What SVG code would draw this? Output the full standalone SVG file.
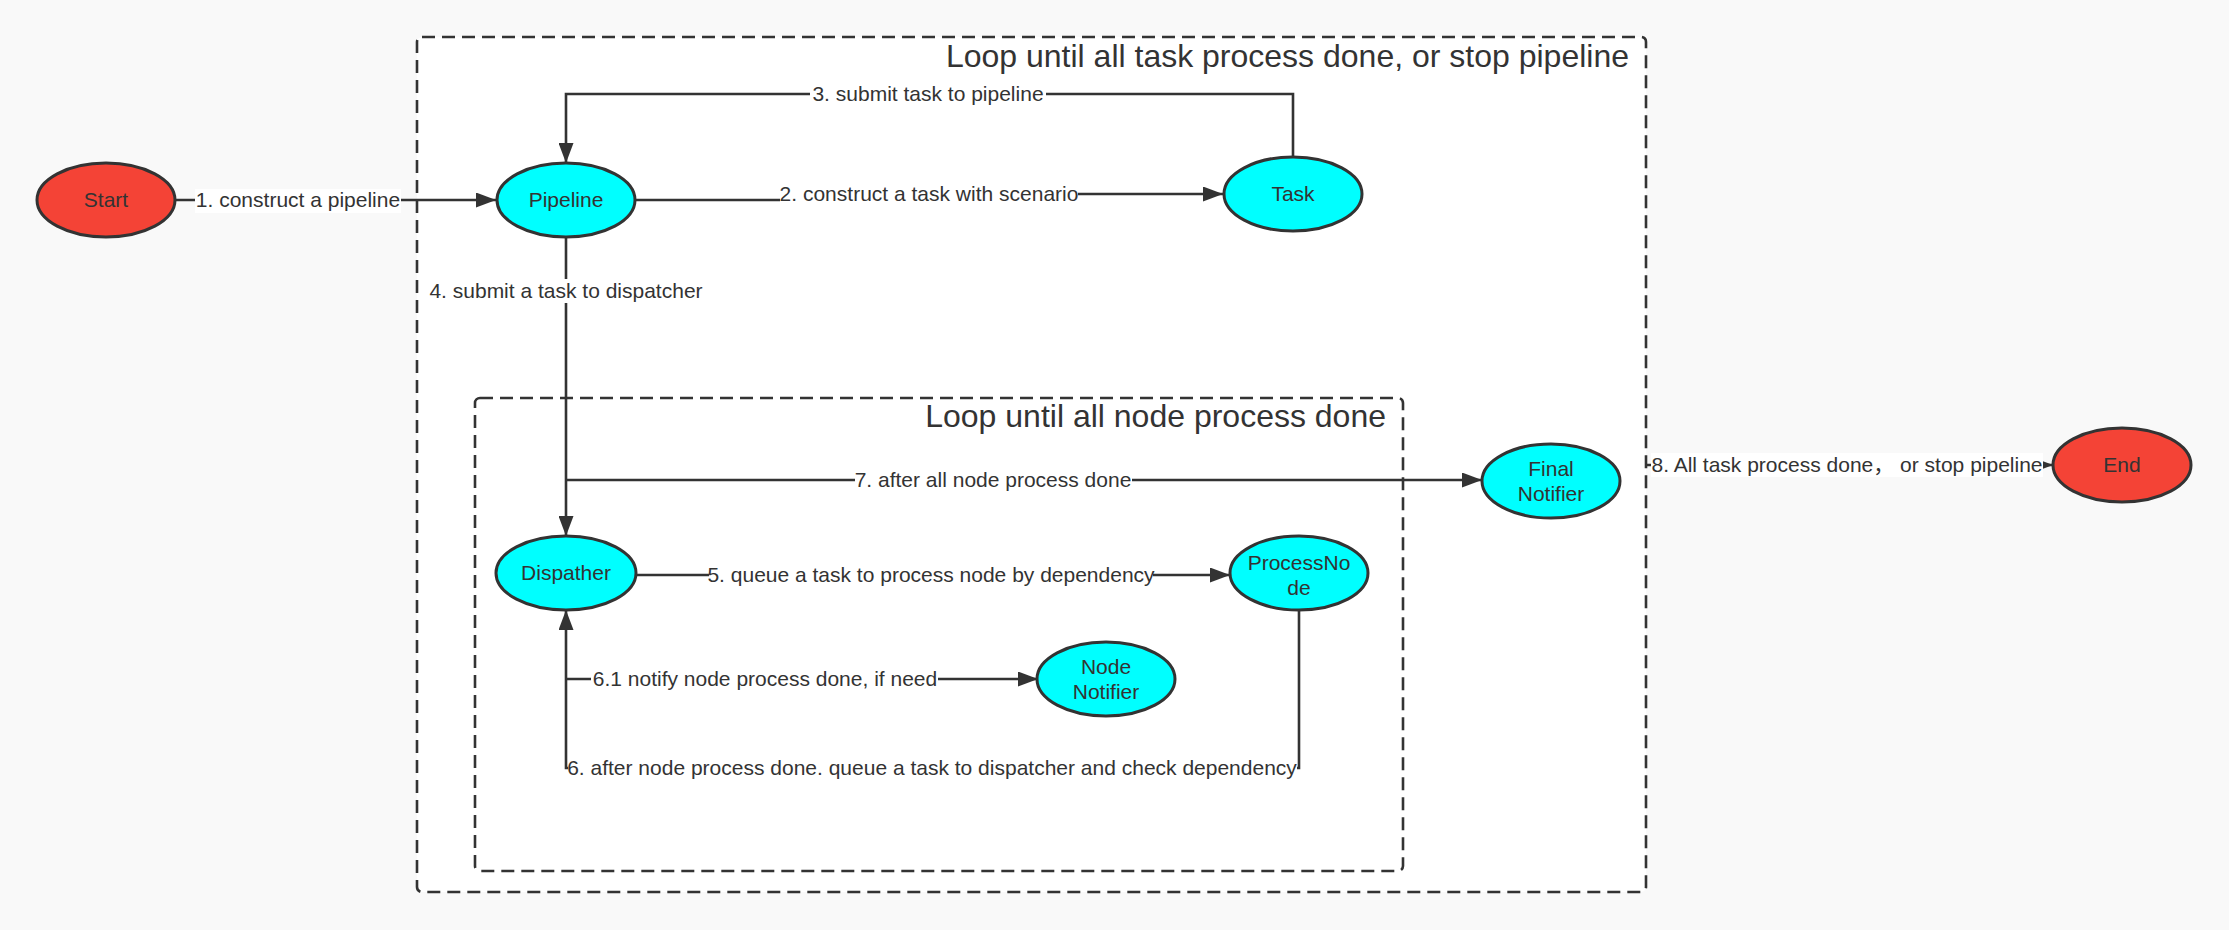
<svg xmlns="http://www.w3.org/2000/svg" width="2229" height="930" viewBox="0 0 2229 930">
<style>
  text { font-family: "Liberation Sans", "Noto Sans CJK SC", sans-serif; fill: #333; }
  .node { stroke: #333; stroke-width: 3; }
  .red { fill: #f44336; }
  .cyan { fill: #00ffff; }
  .nl { font-size: 21px; text-anchor: middle; }
  .el { font-size: 21px; text-anchor: middle; }
  .lb { fill: #ffffff; }
  .edge { fill: none; stroke: #333; stroke-width: 2.6; }
  .box { fill: #ffffff; stroke: #333; stroke-width: 2.6; stroke-dasharray: 13 7; }
  .title { font-size: 32px; text-anchor: end; }
</style>
<defs>
  <marker id="arr" markerUnits="userSpaceOnUse" markerWidth="20" markerHeight="15" refX="20" refY="7.5" orient="auto">
    <path d="M0,0 L20,7.5 L0,15 z" fill="#333"/>
  </marker>
</defs>
<rect x="0" y="0" width="2229" height="930" fill="#f9f9f9"/>

<g id="outer-loop">
  <rect class="box" x="417" y="37" width="1229" height="855" rx="5"/>
  <text class="title" x="1629" y="67">Loop until all task process done, or stop pipeline</text>
</g>
<g id="inner-loop">
  <rect class="box" x="475" y="398" width="928" height="473" rx="5"/>
  <text class="title" x="1386" y="427">Loop until all node process done</text>
</g>

<g id="connectors">
  <path class="edge" d="M175,200 H496" marker-end="url(#arr)"/>
  <rect class="lb" x="195" y="189" width="206" height="24"/>
  <text class="el" x="298" y="200" dy="0.35em">1. construct a pipeline</text>

  <path class="edge" d="M634,200 H930 V194 H1223" marker-end="url(#arr)"/>
  <rect class="lb" x="780" y="182" width="298" height="24"/>
  <text class="el" x="929" y="194" dy="0.35em">2. construct a task with scenario</text>

  <path class="edge" d="M1293,157 V94 H566 V163" marker-end="url(#arr)"/>
  <rect class="lb" x="810" y="82" width="236" height="24"/>
  <text class="el" x="928" y="94" dy="0.35em">3. submit task to pipeline</text>

  <path class="edge" d="M566,237 V536" marker-end="url(#arr)"/>
  <rect class="lb" x="428" y="279" width="275" height="24"/>
  <text class="el" x="566" y="291" dy="0.35em">4. submit a task to dispatcher</text>

  <path class="edge" d="M636,575 H1230" marker-end="url(#arr)"/>
  <rect class="lb" x="709" y="563" width="444" height="24"/>
  <text class="el" x="931" y="575" dy="0.35em">5. queue a task to process node by dependency</text>

  <path class="edge" d="M1299,610 V768 H566 V610" marker-end="url(#arr)"/>
  <rect class="lb" x="568" y="756" width="729" height="24"/>
  <text class="el" x="932" y="768" dy="0.35em">6. after node process done. queue a task to dispatcher and check dependency</text>

  <path class="edge" d="M566,679 H1038" marker-end="url(#arr)"/>
  <rect class="lb" x="591" y="667" width="347" height="24"/>
  <text class="el" x="765" y="679" dy="0.35em">6.1 notify node process done, if need</text>

  <path class="edge" d="M566,480 H1482" marker-end="url(#arr)"/>
  <rect class="lb" x="855" y="468" width="277" height="24"/>
  <text class="el" x="993" y="480" dy="0.35em">7. after all node process done</text>

  <path class="edge" d="M1646,465 H2053" marker-end="url(#arr)"/>
  <rect class="lb" x="1651" y="453" width="392" height="24"/>
  <text class="el" x="1847" y="465" dy="0.35em">8. All task process done，  or stop pipeline</text>
</g>

<g id="start">
  <ellipse class="node red" cx="106" cy="200" rx="69" ry="37"/>
  <text class="nl" x="106" y="200" dy="0.35em">Start</text>
</g>
<g id="pipeline">
  <ellipse class="node cyan" cx="566" cy="200" rx="69" ry="37"/>
  <text class="nl" x="566" y="200" dy="0.35em">Pipeline</text>
</g>
<g id="task">
  <ellipse class="node cyan" cx="1293" cy="194" rx="69" ry="37"/>
  <text class="nl" x="1293" y="194" dy="0.35em">Task</text>
</g>
<g id="dispatcher">
  <ellipse class="node cyan" cx="566" cy="573" rx="70" ry="37"/>
  <text class="nl" x="566" y="573" dy="0.35em">Dispather</text>
</g>
<g id="processnode">
  <ellipse class="node cyan" cx="1299" cy="573" rx="69" ry="37"/>
  <text class="nl" x="1299" y="563" dy="0.35em">ProcessNo</text>
  <text class="nl" x="1299" y="588" dy="0.35em">de</text>
</g>
<g id="nodenotifier">
  <ellipse class="node cyan" cx="1106" cy="679" rx="69" ry="37"/>
  <text class="nl" x="1106" y="667" dy="0.35em">Node</text>
  <text class="nl" x="1106" y="692" dy="0.35em">Notifier</text>
</g>
<g id="finalnotifier">
  <ellipse class="node cyan" cx="1551" cy="481" rx="69" ry="37"/>
  <text class="nl" x="1551" y="469" dy="0.35em">Final</text>
  <text class="nl" x="1551" y="494" dy="0.35em">Notifier</text>
</g>
<g id="end">
  <ellipse class="node red" cx="2122" cy="465" rx="69" ry="37"/>
  <text class="nl" x="2122" y="465" dy="0.35em">End</text>
</g>
</svg>
